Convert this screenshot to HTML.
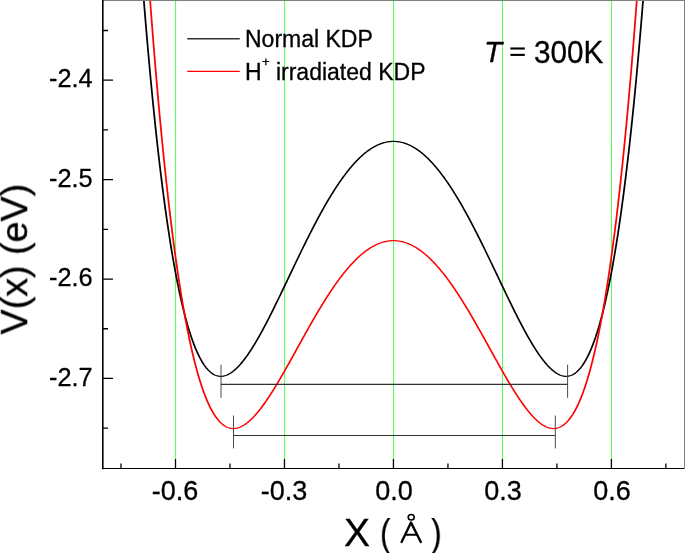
<!DOCTYPE html>
<html><head><meta charset="utf-8"><style>
html,body{margin:0;padding:0;background:#fff;}
body{width:685px;height:553px;overflow:hidden;position:relative;font-family:"Liberation Sans",sans-serif;}
svg{position:absolute;left:0;top:0;}
.t{position:absolute;white-space:nowrap;color:#000;line-height:1;will-change:transform;-webkit-text-stroke:0.3px #000;}
</style></head><body>
<svg width="685" height="553" viewBox="0 0 685 553">
<g stroke="#50ff50" stroke-width="1.0" fill="none"><line x1="175.60" y1="0" x2="175.60" y2="459" /><line x1="284.58" y1="0" x2="284.58" y2="459" /><line x1="393.55" y1="0" x2="393.55" y2="459" /><line x1="502.52" y1="0" x2="502.52" y2="459" /><line x1="611.50" y1="0" x2="611.50" y2="459" /></g>
<g transform="scale(1,0.72)"><path d="M142.81,-17.30 L143.53,-4.56 L144.26,7.97 L144.99,20.29 L145.71,32.41 L146.44,44.32 L147.17,56.04 L147.89,67.56 L148.62,78.88 L149.35,90.01 L150.07,100.95 L150.80,111.70 L151.53,122.26 L152.25,132.64 L152.98,142.83 L153.71,152.84 L154.43,162.68 L155.16,172.34 L155.88,181.82 L156.61,191.13 L157.34,200.26 L158.06,209.23 L158.79,218.03 L159.52,226.67 L160.24,235.14 L160.97,243.45 L161.70,251.61 L162.42,259.60 L163.15,267.44 L163.88,275.12 L164.60,282.65 L165.33,290.03 L166.06,297.26 L166.78,304.34 L167.51,311.28 L168.23,318.07 L168.96,324.72 L169.69,331.23 L170.41,337.61 L171.14,343.84 L171.87,349.94 L172.59,355.90 L173.32,361.74 L174.05,367.44 L174.77,373.01 L175.50,378.45 L176.23,383.77 L176.95,388.96 L177.68,394.03 L178.41,398.98 L179.13,403.81 L179.86,408.52 L180.59,413.11 L181.31,417.59 L182.04,421.95 L182.77,426.20 L183.49,430.34 L184.22,434.37 L184.94,438.28 L185.67,442.09 L186.40,445.80 L187.12,449.40 L187.85,452.90 L188.58,456.29 L189.30,459.59 L190.03,462.78 L190.76,465.88 L191.48,468.88 L192.21,471.78 L192.94,474.59 L193.66,477.31 L194.39,479.93 L195.12,482.46 L195.84,484.91 L196.57,487.26 L197.29,489.53 L198.02,491.71 L198.75,493.81 L199.47,495.83 L200.20,497.76 L200.93,499.61 L201.65,501.38 L202.38,503.07 L203.11,504.68 L203.83,506.22 L204.56,507.68 L205.29,509.06 L206.01,510.38 L206.74,511.61 L207.47,512.78 L208.19,513.88 L208.92,514.90 L209.65,515.86 L210.37,516.75 L211.10,517.58 L211.82,518.34 L212.55,519.03 L213.28,519.66 L214.00,520.23 L214.73,520.73 L215.46,521.18 L216.18,521.56 L216.91,521.89 L217.64,522.16 L218.36,522.37 L219.09,522.52 L219.82,522.62 L220.54,522.66 L221.27,522.65 L222.00,522.59 L222.72,522.48 L223.45,522.31 L224.18,522.10 L224.90,521.83 L225.63,521.52 L226.35,521.16 L227.08,520.75 L227.81,520.30 L228.53,519.80 L229.26,519.26 L229.99,518.67 L230.71,518.04 L231.44,517.37 L232.17,516.65 L232.89,515.90 L233.62,515.10 L234.35,514.27 L235.07,513.39 L235.80,512.48 L236.53,511.54 L237.25,510.55 L237.98,509.53 L238.71,508.48 L239.43,507.39 L240.16,506.27 L240.88,505.11 L241.61,503.92 L242.34,502.70 L243.06,501.45 L243.79,500.17 L244.52,498.86 L245.24,497.52 L245.97,496.16 L246.70,494.76 L247.42,493.34 L248.15,491.89 L248.88,490.41 L249.60,488.91 L250.33,487.39 L251.06,485.84 L251.78,484.27 L252.51,482.67 L253.24,481.05 L253.96,479.41 L254.69,477.75 L255.42,476.07 L256.14,474.37 L256.87,472.65 L257.59,470.90 L258.32,469.15 L259.05,467.37 L259.77,465.57 L260.50,463.76 L261.23,461.93 L261.95,460.09 L262.68,458.23 L263.41,456.35 L264.13,454.47 L264.86,452.56 L265.59,450.65 L266.31,448.72 L267.04,446.78 L267.77,444.82 L268.49,442.86 L269.22,440.88 L269.94,438.89 L270.67,436.89 L271.40,434.89 L272.12,432.87 L272.85,430.84 L273.58,428.81 L274.30,426.77 L275.03,424.72 L275.76,422.66 L276.48,420.60 L277.21,418.53 L277.94,416.45 L278.66,414.37 L279.39,412.28 L280.12,410.19 L280.84,408.10 L281.57,406.00 L282.30,403.89 L283.02,401.79 L283.75,399.68 L284.48,397.56 L285.20,395.45 L285.93,393.34 L286.65,391.22 L287.38,389.10 L288.11,386.98 L288.83,384.86 L289.56,382.74 L290.29,380.62 L291.01,378.51 L291.74,376.39 L292.47,374.27 L293.19,372.16 L293.92,370.05 L294.65,367.94 L295.37,365.83 L296.10,363.73 L296.83,361.63 L297.55,359.53 L298.28,357.44 L299.00,355.35 L299.73,353.26 L300.46,351.18 L301.18,349.11 L301.91,347.04 L302.64,344.97 L303.36,342.91 L304.09,340.86 L304.82,338.82 L305.54,336.78 L306.27,334.75 L307.00,332.72 L307.72,330.70 L308.45,328.70 L309.18,326.69 L309.90,324.70 L310.63,322.72 L311.36,320.74 L312.08,318.77 L312.81,316.82 L313.53,314.87 L314.26,312.93 L314.99,311.00 L315.71,309.08 L316.44,307.17 L317.17,305.28 L317.89,303.39 L318.62,301.52 L319.35,299.65 L320.07,297.80 L320.80,295.96 L321.53,294.13 L322.25,292.31 L322.98,290.51 L323.71,288.72 L324.43,286.94 L325.16,285.17 L325.89,283.42 L326.61,281.68 L327.34,279.95 L328.06,278.24 L328.79,276.54 L329.52,274.85 L330.24,273.18 L330.97,271.52 L331.70,269.88 L332.42,268.25 L333.15,266.64 L333.88,265.04 L334.60,263.46 L335.33,261.89 L336.06,260.34 L336.78,258.80 L337.51,257.28 L338.24,255.78 L338.96,254.29 L339.69,252.82 L340.42,251.36 L341.14,249.92 L341.87,248.50 L342.59,247.10 L343.32,245.71 L344.05,244.34 L344.77,242.98 L345.50,241.64 L346.23,240.33 L346.95,239.02 L347.68,237.74 L348.41,236.47 L349.13,235.22 L349.86,233.99 L350.59,232.78 L351.31,231.59 L352.04,230.41 L352.77,229.25 L353.49,228.11 L354.22,227.00 L354.95,225.89 L355.67,224.81 L356.40,223.75 L357.12,222.70 L357.85,221.68 L358.58,220.67 L359.30,219.69 L360.03,218.72 L360.76,217.77 L361.48,216.85 L362.21,215.94 L362.94,215.05 L363.66,214.18 L364.39,213.33 L365.12,212.50 L365.84,211.70 L366.57,210.91 L367.30,210.14 L368.02,209.39 L368.75,208.66 L369.48,207.96 L370.20,207.27 L370.93,206.60 L371.66,205.96 L372.38,205.33 L373.11,204.73 L373.83,204.15 L374.56,203.58 L375.29,203.04 L376.01,202.52 L376.74,202.02 L377.47,201.54 L378.19,201.08 L378.92,200.65 L379.65,200.23 L380.37,199.84 L381.10,199.46 L381.83,199.11 L382.55,198.78 L383.28,198.47 L384.01,198.18 L384.73,197.91 L385.46,197.67 L386.19,197.44 L386.91,197.24 L387.64,197.06 L388.36,196.90 L389.09,196.76 L389.82,196.64 L390.54,196.54 L391.27,196.47 L392.00,196.41 L392.72,196.38 L393.45,196.37 L394.18,196.38 L394.90,196.41 L395.63,196.47 L396.36,196.54 L397.08,196.64 L397.81,196.76 L398.54,196.90 L399.26,197.06 L399.99,197.24 L400.71,197.44 L401.44,197.67 L402.17,197.91 L402.89,198.18 L403.62,198.47 L404.35,198.78 L405.07,199.11 L405.80,199.46 L406.53,199.84 L407.25,200.23 L407.98,200.65 L408.71,201.08 L409.43,201.54 L410.16,202.02 L410.89,202.52 L411.61,203.04 L412.34,203.58 L413.07,204.15 L413.79,204.73 L414.52,205.33 L415.25,205.96 L415.97,206.60 L416.70,207.27 L417.42,207.96 L418.15,208.66 L418.88,209.39 L419.60,210.14 L420.33,210.91 L421.06,211.70 L421.78,212.50 L422.51,213.33 L423.24,214.18 L423.96,215.05 L424.69,215.94 L425.42,216.85 L426.14,217.77 L426.87,218.72 L427.60,219.69 L428.32,220.67 L429.05,221.68 L429.78,222.70 L430.50,223.75 L431.23,224.81 L431.95,225.89 L432.68,227.00 L433.41,228.11 L434.13,229.25 L434.86,230.41 L435.59,231.59 L436.31,232.78 L437.04,233.99 L437.77,235.22 L438.49,236.47 L439.22,237.74 L439.95,239.02 L440.67,240.33 L441.40,241.64 L442.13,242.98 L442.85,244.34 L443.58,245.71 L444.31,247.10 L445.03,248.50 L445.76,249.92 L446.48,251.36 L447.21,252.82 L447.94,254.29 L448.66,255.78 L449.39,257.28 L450.12,258.80 L450.84,260.34 L451.57,261.89 L452.30,263.46 L453.02,265.04 L453.75,266.64 L454.48,268.25 L455.20,269.88 L455.93,271.52 L456.66,273.18 L457.38,274.85 L458.11,276.54 L458.84,278.24 L459.56,279.95 L460.29,281.68 L461.01,283.42 L461.74,285.17 L462.47,286.94 L463.19,288.72 L463.92,290.51 L464.65,292.31 L465.37,294.13 L466.10,295.96 L466.83,297.80 L467.55,299.65 L468.28,301.52 L469.01,303.39 L469.73,305.28 L470.46,307.17 L471.19,309.08 L471.91,311.00 L472.64,312.93 L473.37,314.87 L474.09,316.82 L474.82,318.77 L475.54,320.74 L476.27,322.72 L477.00,324.70 L477.72,326.69 L478.45,328.70 L479.18,330.70 L479.90,332.72 L480.63,334.75 L481.36,336.78 L482.08,338.82 L482.81,340.86 L483.54,342.91 L484.26,344.97 L484.99,347.04 L485.72,349.11 L486.44,351.18 L487.17,353.26 L487.89,355.35 L488.62,357.44 L489.35,359.53 L490.07,361.63 L490.80,363.73 L491.53,365.83 L492.25,367.94 L492.98,370.05 L493.71,372.16 L494.43,374.27 L495.16,376.39 L495.89,378.51 L496.61,380.62 L497.34,382.74 L498.07,384.86 L498.79,386.98 L499.52,389.10 L500.25,391.22 L500.97,393.34 L501.70,395.45 L502.43,397.56 L503.15,399.68 L503.88,401.79 L504.60,403.89 L505.33,406.00 L506.06,408.10 L506.78,410.19 L507.51,412.28 L508.24,414.37 L508.96,416.45 L509.69,418.53 L510.42,420.60 L511.14,422.66 L511.87,424.72 L512.60,426.77 L513.32,428.81 L514.05,430.84 L514.78,432.87 L515.50,434.89 L516.23,436.89 L516.96,438.89 L517.68,440.88 L518.41,442.86 L519.13,444.82 L519.86,446.78 L520.59,448.72 L521.31,450.65 L522.04,452.56 L522.77,454.47 L523.49,456.35 L524.22,458.23 L524.95,460.09 L525.67,461.93 L526.40,463.76 L527.13,465.57 L527.85,467.37 L528.58,469.15 L529.31,470.90 L530.03,472.65 L530.76,474.37 L531.49,476.07 L532.21,477.75 L532.94,479.41 L533.66,481.05 L534.39,482.67 L535.12,484.27 L535.84,485.84 L536.57,487.39 L537.30,488.91 L538.02,490.41 L538.75,491.89 L539.48,493.34 L540.20,494.76 L540.93,496.16 L541.66,497.52 L542.38,498.86 L543.11,500.17 L543.84,501.45 L544.56,502.70 L545.29,503.92 L546.02,505.11 L546.74,506.27 L547.47,507.39 L548.19,508.48 L548.92,509.53 L549.65,510.55 L550.37,511.54 L551.10,512.48 L551.83,513.39 L552.55,514.27 L553.28,515.10 L554.01,515.90 L554.73,516.65 L555.46,517.37 L556.19,518.04 L556.91,518.67 L557.64,519.26 L558.37,519.80 L559.09,520.30 L559.82,520.75 L560.54,521.16 L561.27,521.52 L562.00,521.83 L562.72,522.10 L563.45,522.31 L564.18,522.48 L564.90,522.59 L565.63,522.65 L566.36,522.66 L567.08,522.62 L567.81,522.52 L568.54,522.37 L569.26,522.16 L569.99,521.89 L570.72,521.56 L571.44,521.18 L572.17,520.73 L572.90,520.23 L573.62,519.66 L574.35,519.03 L575.08,518.34 L575.80,517.58 L576.53,516.75 L577.25,515.86 L577.98,514.90 L578.71,513.88 L579.43,512.78 L580.16,511.61 L580.89,510.38 L581.61,509.06 L582.34,507.68 L583.07,506.22 L583.79,504.68 L584.52,503.07 L585.25,501.38 L585.97,499.61 L586.70,497.76 L587.43,495.83 L588.15,493.81 L588.88,491.71 L589.61,489.53 L590.33,487.26 L591.06,484.91 L591.78,482.46 L592.51,479.93 L593.24,477.31 L593.96,474.59 L594.69,471.78 L595.42,468.88 L596.14,465.88 L596.87,462.78 L597.60,459.59 L598.32,456.29 L599.05,452.90 L599.78,449.40 L600.50,445.80 L601.23,442.09 L601.96,438.28 L602.68,434.37 L603.41,430.34 L604.13,426.20 L604.86,421.95 L605.59,417.59 L606.31,413.11 L607.04,408.52 L607.77,403.81 L608.49,398.98 L609.22,394.03 L609.95,388.96 L610.67,383.77 L611.40,378.45 L612.13,373.01 L612.85,367.44 L613.58,361.74 L614.31,355.90 L615.03,349.94 L615.76,343.84 L616.49,337.61 L617.21,331.23 L617.94,324.72 L618.66,318.07 L619.39,311.28 L620.12,304.34 L620.84,297.26 L621.57,290.03 L622.30,282.65 L623.02,275.12 L623.75,267.44 L624.48,259.60 L625.20,251.61 L625.93,243.45 L626.66,235.14 L627.38,226.67 L628.11,218.03 L628.84,209.23 L629.56,200.26 L630.29,191.13 L631.02,181.82 L631.74,172.34 L632.47,162.68 L633.20,152.84 L633.92,142.83 L634.65,132.64 L635.37,122.26 L636.10,111.70 L636.83,100.95 L637.55,90.01 L638.28,78.88 L639.01,67.56 L639.73,56.04 L640.46,44.32 L641.19,32.41 L641.91,20.29 L642.64,7.97 L643.37,-4.56 L644.09,-17.30" stroke="#000" stroke-width="1.75" fill="none" stroke-linejoin="round"/>
<path d="M149.35,-14.23 L150.07,-0.58 L150.80,12.86 L151.53,26.08 L152.25,39.09 L152.98,51.90 L153.71,64.49 L154.43,76.88 L155.16,89.07 L155.88,101.06 L156.61,112.85 L157.34,124.45 L158.06,135.85 L158.79,147.05 L159.52,158.07 L160.24,168.91 L160.97,179.55 L161.70,190.01 L162.42,200.30 L163.15,210.40 L163.88,220.32 L164.60,230.07 L165.33,239.65 L166.06,249.05 L166.78,258.29 L167.51,267.36 L168.23,276.26 L168.96,285.00 L169.69,293.58 L170.41,301.99 L171.14,310.25 L171.87,318.35 L172.59,326.30 L173.32,334.10 L174.05,341.74 L174.77,349.23 L175.50,356.58 L176.23,363.78 L176.95,370.84 L177.68,377.75 L178.41,384.53 L179.13,391.16 L179.86,397.66 L180.59,404.02 L181.31,410.25 L182.04,416.34 L182.77,422.31 L183.49,428.14 L184.22,433.85 L184.94,439.43 L185.67,444.89 L186.40,450.22 L187.12,455.43 L187.85,460.52 L188.58,465.49 L189.30,470.34 L190.03,475.08 L190.76,479.71 L191.48,484.22 L192.21,488.62 L192.94,492.91 L193.66,497.09 L194.39,501.16 L195.12,505.13 L195.84,508.99 L196.57,512.75 L197.29,516.40 L198.02,519.96 L198.75,523.42 L199.47,526.78 L200.20,530.04 L200.93,533.20 L201.65,536.27 L202.38,539.25 L203.11,542.14 L203.83,544.94 L204.56,547.64 L205.29,550.26 L206.01,552.79 L206.74,555.24 L207.47,557.60 L208.19,559.88 L208.92,562.07 L209.65,564.18 L210.37,566.22 L211.10,568.17 L211.82,570.05 L212.55,571.85 L213.28,573.57 L214.00,575.22 L214.73,576.79 L215.46,578.30 L216.18,579.73 L216.91,581.09 L217.64,582.38 L218.36,583.60 L219.09,584.76 L219.82,585.85 L220.54,586.87 L221.27,587.83 L222.00,588.73 L222.72,589.56 L223.45,590.33 L224.18,591.04 L224.90,591.70 L225.63,592.29 L226.35,592.82 L227.08,593.30 L227.81,593.72 L228.53,594.09 L229.26,594.40 L229.99,594.66 L230.71,594.86 L231.44,595.02 L232.17,595.12 L232.89,595.18 L233.62,595.18 L234.35,595.14 L235.07,595.05 L235.80,594.91 L236.53,594.72 L237.25,594.50 L237.98,594.22 L238.71,593.90 L239.43,593.55 L240.16,593.14 L240.88,592.70 L241.61,592.22 L242.34,591.69 L243.06,591.13 L243.79,590.53 L244.52,589.89 L245.24,589.22 L245.97,588.51 L246.70,587.76 L247.42,586.98 L248.15,586.17 L248.88,585.32 L249.60,584.44 L250.33,583.53 L251.06,582.58 L251.78,581.61 L252.51,580.60 L253.24,579.57 L253.96,578.50 L254.69,577.41 L255.42,576.29 L256.14,575.15 L256.87,573.98 L257.59,572.78 L258.32,571.56 L259.05,570.31 L259.77,569.04 L260.50,567.75 L261.23,566.43 L261.95,565.09 L262.68,563.73 L263.41,562.35 L264.13,560.95 L264.86,559.53 L265.59,558.09 L266.31,556.63 L267.04,555.15 L267.77,553.65 L268.49,552.14 L269.22,550.61 L269.94,549.07 L270.67,547.50 L271.40,545.93 L272.12,544.34 L272.85,542.73 L273.58,541.11 L274.30,539.48 L275.03,537.84 L275.76,536.18 L276.48,534.51 L277.21,532.83 L277.94,531.14 L278.66,529.44 L279.39,527.73 L280.12,526.01 L280.84,524.28 L281.57,522.54 L282.30,520.79 L283.02,519.04 L283.75,517.28 L284.48,515.51 L285.20,513.73 L285.93,511.95 L286.65,510.16 L287.38,508.37 L288.11,506.58 L288.83,504.77 L289.56,502.97 L290.29,501.16 L291.01,499.35 L291.74,497.53 L292.47,495.71 L293.19,493.89 L293.92,492.07 L294.65,490.25 L295.37,488.42 L296.10,486.60 L296.83,484.77 L297.55,482.94 L298.28,481.12 L299.00,479.29 L299.73,477.47 L300.46,475.64 L301.18,473.82 L301.91,472.00 L302.64,470.18 L303.36,468.37 L304.09,466.56 L304.82,464.75 L305.54,462.94 L306.27,461.14 L307.00,459.34 L307.72,457.55 L308.45,455.76 L309.18,453.98 L309.90,452.20 L310.63,450.42 L311.36,448.66 L312.08,446.90 L312.81,445.14 L313.53,443.39 L314.26,441.65 L314.99,439.92 L315.71,438.19 L316.44,436.47 L317.17,434.76 L317.89,433.05 L318.62,431.36 L319.35,429.67 L320.07,427.99 L320.80,426.33 L321.53,424.67 L322.25,423.02 L322.98,421.38 L323.71,419.75 L324.43,418.13 L325.16,416.52 L325.89,414.92 L326.61,413.33 L327.34,411.75 L328.06,410.19 L328.79,408.64 L329.52,407.09 L330.24,405.56 L330.97,404.04 L331.70,402.54 L332.42,401.05 L333.15,399.56 L333.88,398.10 L334.60,396.64 L335.33,395.20 L336.06,393.77 L336.78,392.36 L337.51,390.96 L338.24,389.57 L338.96,388.20 L339.69,386.84 L340.42,385.49 L341.14,384.16 L341.87,382.85 L342.59,381.55 L343.32,380.26 L344.05,378.99 L344.77,377.74 L345.50,376.50 L346.23,375.28 L346.95,374.07 L347.68,372.88 L348.41,371.70 L349.13,370.54 L349.86,369.40 L350.59,368.27 L351.31,367.16 L352.04,366.07 L352.77,364.99 L353.49,363.93 L354.22,362.89 L354.95,361.86 L355.67,360.86 L356.40,359.86 L357.12,358.89 L357.85,357.94 L358.58,357.00 L359.30,356.08 L360.03,355.17 L360.76,354.29 L361.48,353.42 L362.21,352.57 L362.94,351.74 L363.66,350.93 L364.39,350.14 L365.12,349.36 L365.84,348.61 L366.57,347.87 L367.30,347.15 L368.02,346.45 L368.75,345.77 L369.48,345.11 L370.20,344.47 L370.93,343.84 L371.66,343.24 L372.38,342.65 L373.11,342.08 L373.83,341.54 L374.56,341.01 L375.29,340.50 L376.01,340.01 L376.74,339.54 L377.47,339.10 L378.19,338.67 L378.92,338.26 L379.65,337.87 L380.37,337.49 L381.10,337.14 L381.83,336.81 L382.55,336.50 L383.28,336.21 L384.01,335.94 L384.73,335.69 L385.46,335.46 L386.19,335.25 L386.91,335.06 L387.64,334.88 L388.36,334.73 L389.09,334.60 L389.82,334.49 L390.54,334.40 L391.27,334.33 L392.00,334.28 L392.72,334.25 L393.45,334.24 L394.18,334.25 L394.90,334.28 L395.63,334.33 L396.36,334.40 L397.08,334.49 L397.81,334.60 L398.54,334.73 L399.26,334.88 L399.99,335.06 L400.71,335.25 L401.44,335.46 L402.17,335.69 L402.89,335.94 L403.62,336.21 L404.35,336.50 L405.07,336.81 L405.80,337.14 L406.53,337.49 L407.25,337.87 L407.98,338.26 L408.71,338.67 L409.43,339.10 L410.16,339.54 L410.89,340.01 L411.61,340.50 L412.34,341.01 L413.07,341.54 L413.79,342.08 L414.52,342.65 L415.25,343.24 L415.97,343.84 L416.70,344.47 L417.42,345.11 L418.15,345.77 L418.88,346.45 L419.60,347.15 L420.33,347.87 L421.06,348.61 L421.78,349.36 L422.51,350.14 L423.24,350.93 L423.96,351.74 L424.69,352.57 L425.42,353.42 L426.14,354.29 L426.87,355.17 L427.60,356.08 L428.32,357.00 L429.05,357.94 L429.78,358.89 L430.50,359.86 L431.23,360.86 L431.95,361.86 L432.68,362.89 L433.41,363.93 L434.13,364.99 L434.86,366.07 L435.59,367.16 L436.31,368.27 L437.04,369.40 L437.77,370.54 L438.49,371.70 L439.22,372.88 L439.95,374.07 L440.67,375.28 L441.40,376.50 L442.13,377.74 L442.85,378.99 L443.58,380.26 L444.31,381.55 L445.03,382.85 L445.76,384.16 L446.48,385.49 L447.21,386.84 L447.94,388.20 L448.66,389.57 L449.39,390.96 L450.12,392.36 L450.84,393.77 L451.57,395.20 L452.30,396.64 L453.02,398.10 L453.75,399.56 L454.48,401.05 L455.20,402.54 L455.93,404.04 L456.66,405.56 L457.38,407.09 L458.11,408.64 L458.84,410.19 L459.56,411.75 L460.29,413.33 L461.01,414.92 L461.74,416.52 L462.47,418.13 L463.19,419.75 L463.92,421.38 L464.65,423.02 L465.37,424.67 L466.10,426.33 L466.83,427.99 L467.55,429.67 L468.28,431.36 L469.01,433.05 L469.73,434.76 L470.46,436.47 L471.19,438.19 L471.91,439.92 L472.64,441.65 L473.37,443.39 L474.09,445.14 L474.82,446.90 L475.54,448.66 L476.27,450.42 L477.00,452.20 L477.72,453.98 L478.45,455.76 L479.18,457.55 L479.90,459.34 L480.63,461.14 L481.36,462.94 L482.08,464.75 L482.81,466.56 L483.54,468.37 L484.26,470.18 L484.99,472.00 L485.72,473.82 L486.44,475.64 L487.17,477.47 L487.89,479.29 L488.62,481.12 L489.35,482.94 L490.07,484.77 L490.80,486.60 L491.53,488.42 L492.25,490.25 L492.98,492.07 L493.71,493.89 L494.43,495.71 L495.16,497.53 L495.89,499.35 L496.61,501.16 L497.34,502.97 L498.07,504.77 L498.79,506.58 L499.52,508.37 L500.25,510.16 L500.97,511.95 L501.70,513.73 L502.43,515.51 L503.15,517.28 L503.88,519.04 L504.60,520.79 L505.33,522.54 L506.06,524.28 L506.78,526.01 L507.51,527.73 L508.24,529.44 L508.96,531.14 L509.69,532.83 L510.42,534.51 L511.14,536.18 L511.87,537.84 L512.60,539.48 L513.32,541.11 L514.05,542.73 L514.78,544.34 L515.50,545.93 L516.23,547.50 L516.96,549.07 L517.68,550.61 L518.41,552.14 L519.13,553.65 L519.86,555.15 L520.59,556.63 L521.31,558.09 L522.04,559.53 L522.77,560.95 L523.49,562.35 L524.22,563.73 L524.95,565.09 L525.67,566.43 L526.40,567.75 L527.13,569.04 L527.85,570.31 L528.58,571.56 L529.31,572.78 L530.03,573.98 L530.76,575.15 L531.49,576.29 L532.21,577.41 L532.94,578.50 L533.66,579.57 L534.39,580.60 L535.12,581.61 L535.84,582.58 L536.57,583.53 L537.30,584.44 L538.02,585.32 L538.75,586.17 L539.48,586.98 L540.20,587.76 L540.93,588.51 L541.66,589.22 L542.38,589.89 L543.11,590.53 L543.84,591.13 L544.56,591.69 L545.29,592.22 L546.02,592.70 L546.74,593.14 L547.47,593.55 L548.19,593.90 L548.92,594.22 L549.65,594.50 L550.37,594.72 L551.10,594.91 L551.83,595.05 L552.55,595.14 L553.28,595.18 L554.01,595.18 L554.73,595.12 L555.46,595.02 L556.19,594.86 L556.91,594.66 L557.64,594.40 L558.37,594.09 L559.09,593.72 L559.82,593.30 L560.54,592.82 L561.27,592.29 L562.00,591.70 L562.72,591.04 L563.45,590.33 L564.18,589.56 L564.90,588.73 L565.63,587.83 L566.36,586.87 L567.08,585.85 L567.81,584.76 L568.54,583.60 L569.26,582.38 L569.99,581.09 L570.72,579.73 L571.44,578.30 L572.17,576.79 L572.90,575.22 L573.62,573.57 L574.35,571.85 L575.08,570.05 L575.80,568.17 L576.53,566.22 L577.25,564.18 L577.98,562.07 L578.71,559.88 L579.43,557.60 L580.16,555.24 L580.89,552.79 L581.61,550.26 L582.34,547.64 L583.07,544.94 L583.79,542.14 L584.52,539.25 L585.25,536.27 L585.97,533.20 L586.70,530.04 L587.43,526.78 L588.15,523.42 L588.88,519.96 L589.61,516.40 L590.33,512.75 L591.06,508.99 L591.78,505.13 L592.51,501.16 L593.24,497.09 L593.96,492.91 L594.69,488.62 L595.42,484.22 L596.14,479.71 L596.87,475.08 L597.60,470.34 L598.32,465.49 L599.05,460.52 L599.78,455.43 L600.50,450.22 L601.23,444.89 L601.96,439.43 L602.68,433.85 L603.41,428.14 L604.13,422.31 L604.86,416.34 L605.59,410.25 L606.31,404.02 L607.04,397.66 L607.77,391.16 L608.49,384.53 L609.22,377.75 L609.95,370.84 L610.67,363.78 L611.40,356.58 L612.13,349.23 L612.85,341.74 L613.58,334.10 L614.31,326.30 L615.03,318.35 L615.76,310.25 L616.49,301.99 L617.21,293.58 L617.94,285.00 L618.66,276.26 L619.39,267.36 L620.12,258.29 L620.84,249.05 L621.57,239.65 L622.30,230.07 L623.02,220.32 L623.75,210.40 L624.48,200.30 L625.20,190.01 L625.93,179.55 L626.66,168.91 L627.38,158.07 L628.11,147.05 L628.84,135.85 L629.56,124.45 L630.29,112.85 L631.02,101.06 L631.74,89.07 L632.47,76.88 L633.20,64.49 L633.92,51.90 L634.65,39.09 L635.37,26.08 L636.10,12.86 L636.83,-0.58 L637.55,-14.23" stroke="#f00" stroke-width="1.75" fill="none" stroke-linejoin="round"/></g>
<g stroke="#4a4a4a" stroke-width="1"><line x1="221.0" y1="364.7" x2="221.0" y2="397.8"/><line x1="567.6" y1="364.7" x2="567.6" y2="397.8"/>
<line x1="233.5" y1="415.5" x2="233.5" y2="448.4"/><line x1="555.3" y1="415.5" x2="555.3" y2="448.4"/></g>
<g stroke="#333" stroke-width="1.1"><line x1="221.0" y1="384.4" x2="567.6" y2="384.4"/><line x1="233.5" y1="435.5" x2="555.3" y2="435.5"/></g>
<g stroke="#333" stroke-width="1.4"><line x1="187.2" y1="38.8" x2="239.8" y2="38.8"/></g>
<g stroke="#f00" stroke-width="1.4"><line x1="187.2" y1="71.4" x2="239.8" y2="71.4"/></g>
<g stroke="#000" fill="none" stroke-linecap="round" stroke-linejoin="round"><path d="M401.6,542 L411,522.6 L420.8,542" stroke-width="2.4"/><path d="M406,534.7 H416.5" stroke-width="1.9"/><ellipse cx="411.2" cy="517.3" rx="3.0" ry="2.75" stroke-width="1.6"/></g>
<rect x="510.4" y="47.45" width="14.4" height="2.1" fill="#000"/><rect x="510.4" y="53.85" width="14.4" height="2.1" fill="#000"/>
<rect x="103" y="0" width="582" height="1" fill="#808080"/><rect x="684" y="0" width="1" height="469" fill="#808080"/>
<line x1="102.8" y1="0" x2="102.8" y2="469.2" stroke="#000" stroke-width="1.6"/>
<line x1="102" y1="468.5" x2="684" y2="468.5" stroke="#000" stroke-width="1.2"/>
<path d="M175.50,468 V459 M284.48,468 V459 M393.45,468 V459 M502.42,468 V459 M611.40,468 V459 M121.01,468 V463.5 M229.99,468 V463.5 M338.96,468 V463.5 M447.94,468 V463.5 M556.91,468 V463.5 M665.89,468 V463.5 M103,80.20 H113 M103,179.62 H113 M103,279.04 H113 M103,378.46 H113 M103,30.49 H108 M103,129.91 H108 M103,229.33 H108 M103,328.75 H108 M103,428.17 H108" stroke="#000" stroke-width="1.3" fill="none"/>
</svg>
<div class="t" style="right:592.20px;top:66.40px;font-size:25.3px">-2.4</div>
<div class="t" style="right:592.20px;top:165.82px;font-size:25.3px">-2.5</div>
<div class="t" style="right:592.20px;top:265.24px;font-size:25.3px">-2.6</div>
<div class="t" style="right:592.20px;top:364.66px;font-size:25.3px">-2.7</div>
<div class="t" style="left:75.30px;width:200px;text-align:center;top:477.60px;font-size:27px">-0.6</div>
<div class="t" style="left:184.28px;width:200px;text-align:center;top:477.60px;font-size:27px">-0.3</div>
<div class="t" style="left:294.05px;width:200px;text-align:center;top:477.60px;font-size:27px">0.0</div>
<div class="t" style="left:403.02px;width:200px;text-align:center;top:477.60px;font-size:27px">0.3</div>
<div class="t" style="left:512.00px;width:200px;text-align:center;top:477.60px;font-size:27px">0.6</div>
<div class="t" style="left:245.00px;top:27.80px;font-size:23px;">Normal KDP</div>
<div class="t" style="left:245.00px;top:60.80px;font-size:23px;">H<span style="position:relative;font-size:13px;top:-13.8px;margin-left:0.3px;margin-right:0px">+</span> irradiated KDP</div>
<div class="t" style="left:483.90px;top:36.60px;font-size:29.7px;transform:scaleY(1.015);transform-origin:0 0;"><i>T</i></div>
<div class="t" style="left:534.00px;top:35.90px;font-size:29.7px;transform:scaleY(1.07);transform-origin:0 0;">300K</div>
<div class="t" style="left:509.00px;top:37.00px;font-size:29.7px;color:transparent;-webkit-text-stroke:0;">=</div>
<div class="t" style="left:399.00px;top:518.00px;font-size:28px;color:transparent;-webkit-text-stroke:0;">Å</div>
<div class="t" style="left:344.40px;top:513.60px;font-size:38px;transform:scaleX(1.025);transform-origin:0 0;">X</div>
<div class="t" style="left:380.00px;top:514.10px;font-size:38px;-webkit-text-stroke:0.2px #000;transform:scaleX(0.83);transform-origin:0 0;">(</div>
<div class="t" style="left:429.30px;top:514.10px;font-size:38px;-webkit-text-stroke:0.2px #000;transform:scaleX(0.83);transform-origin:100% 0;">)</div>
<div class="t" style="left:0;top:0;font-size:37.7px;transform-origin:0 0;transform:translate(-3.9px,334.5px) rotate(-90deg)">V(x) (eV)</div>
</body></html>
